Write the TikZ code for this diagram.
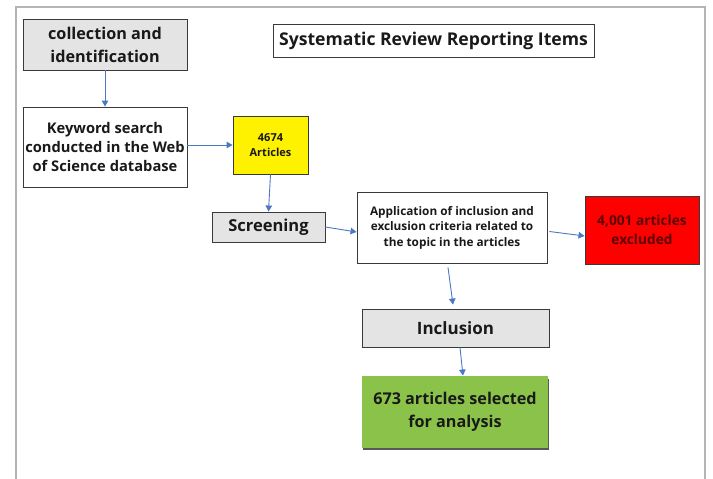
\documentclass[tikz,border=0pt]{standalone}
\usepackage{fontspec}
\setmainfont{Open Sans}
\usetikzlibrary{arrows.meta,calc}
\definecolor{framegray}{HTML}{B4B4B4}
\definecolor{boxline}{HTML}{3A3A3A}
\definecolor{boxgray}{HTML}{E4E4E4}
\definecolor{arrblue}{HTML}{4A78C4}
\definecolor{ygreen}{HTML}{8BC34A}
\definecolor{darkred}{HTML}{5A0505}
\tikzset{
  box/.style={draw=boxline, line width=0.9pt, inner sep=0pt, align=center, font=\bfseries, text=black!90},
  graybox/.style={box, fill=boxgray},
  arr/.style={draw=arrblue, line width=0.9pt, -{Triangle[length=6pt,width=6.5pt]}},
}
\begin{document}
\begin{tikzpicture}[x=1pt,y=-1pt]
\useasboundingbox (0,0) rectangle (713,479);
% outer frame
\draw[framegray, line width=1.2pt] (16,481) -- (16,7) -- (705,7) -- (705,481);

\node[graybox, minimum width=164pt, minimum height=51pt, font=\fontsize{16.2}{23}\selectfont\bfseries] (coll) at (105,44.5) {collection and\\identification};
\node[box, minimum width=164pt, minimum height=80pt, font=\fontsize{14.7}{19}\selectfont\bfseries] (kw) at (105,147) {Keyword search\\conducted in the Web\\of Science database};
\node[box, fill=yellow, minimum width=75pt, minimum height=58pt, font=\fontsize{11}{15}\selectfont\bfseries] (yel) at (270.5,145) {4674\\Articles};
\node[graybox, minimum width=113pt, minimum height=30pt, font=\fontsize{16.5}{20}\selectfont\bfseries] (scr) at (268.5,227) {Screening};
\node[box, minimum width=190pt, minimum height=71pt, font=\fontsize{11.8}{15.5}\selectfont\bfseries] (app) at (452,227.5) {Application of inclusion and\\exclusion criteria related to\\the topic in the articles};
\node[box, fill=red, minimum width=114pt, minimum height=68pt, text=darkred, font=\fontsize{13.7}{19}\selectfont\bfseries] (red) at (642,230) {4,001 articles\\excluded};
\node[graybox, minimum width=187pt, minimum height=38pt, font=\fontsize{17}{20}\selectfont\bfseries] (inc) at (455.5,328) {Inclusion};
\fill[black!65] (363,379) rectangle (549,450);
\node[box, draw=none, fill=ygreen, minimum width=186pt, minimum height=72pt, font=\fontsize{16.2}{23}\selectfont\bfseries] (grn) at (455,412) {673 articles selected\\for analysis};
\node[box, minimum width=321pt, minimum height=33pt, font=\fontsize{17.6}{20}\selectfont\bfseries] (title) at (433.5,40.5) {Systematic Review Reporting Items};

% connectors
\draw[arr] (coll.south) -- (kw.north);
\draw[arr] (kw.east |- yel.west) -- (yel.west);
\draw[arr] (yel.south) -- (scr.north);
\draw[arr] (scr.east) -- ([yshift=-4.5pt]app.west);
\draw[arr] ([xshift=2pt,yshift=-4pt]app.east) -- ([yshift=-6pt]red.west);
\draw[arr] ([xshift=-4pt,yshift=-4pt]app.south) -- ([xshift=-2.5pt,yshift=4pt]inc.north);
\draw[arr] ([xshift=4.5pt]inc.south) -- ([xshift=8pt]grn.north);
\end{tikzpicture}
\end{document}
